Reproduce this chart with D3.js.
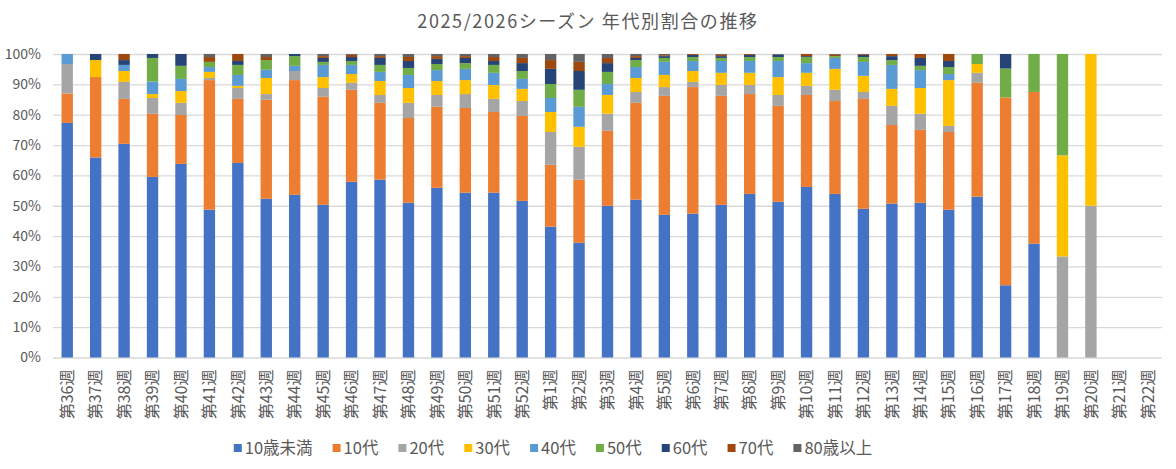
<!DOCTYPE html>
<html>
<head>
<meta charset="utf-8">
<script src="https://cdn.jsdelivr.net/npm/d3@7"></script>
<style>
  body { margin: 0; background: #fff; }
  svg { display: block; font-family: "Noto Sans CJK JP", "Noto Sans", sans-serif; }
</style>
</head>
<body>
<script>
// weeks of the 2025/2026 season
var categories = ["第36週", "第37週", "第38週", "第39週", "第40週", "第41週", "第42週", "第43週", "第44週",
  "第45週", "第46週", "第47週", "第48週", "第49週", "第50週", "第51週", "第52週", "第1週", "第2週", "第3週",
  "第4週", "第5週", "第6週", "第7週", "第8週", "第9週", "第10週", "第11週", "第12週", "第13週", "第14週",
  "第15週", "第16週", "第17週", "第18週", "第19週", "第20週", "第21週", "第22週"];

var seriesNames = ["10歳未満", "10代", "20代", "30代", "40代", "50代", "60代", "70代", "80歳以上"];

// share per age group (%)
var under10 = [77.3, 65.9, 70.4, 59.5, 63.8, 48.7, 64.1, 52.3, 53.6, 50.3, 57.9, 58.6, 51.0, 55.9, 54.3, 54.3, 51.6, 43.1, 37.8, 50.0, 52.0, 47.0, 47.4, 50.3, 53.9, 51.3, 56.2, 53.9, 49.0, 50.7, 51.0, 48.7, 53.0, 23.8, 37.5, 0, 0, 0, 0];
var teens = [9.7, 26.5, 14.8, 20.8, 16.1, 42.7, 21.1, 32.6, 37.8, 35.6, 30.3, 25.3, 27.9, 26.7, 27.9, 26.6, 28.0, 20.4, 20.8, 24.7, 31.9, 39.2, 41.7, 35.9, 32.9, 31.6, 30.3, 30.6, 36.2, 25.9, 24.0, 25.6, 37.5, 61.9, 50.0, 0, 0, 0, 0];
var twenties = [9.7, 0, 5.6, 5.2, 4.0, 0.7, 3.6, 1.9, 3.0, 2.9, 2.3, 2.6, 5.0, 3.9, 4.6, 4.3, 4.9, 10.8, 10.8, 5.6, 3.6, 2.9, 1.7, 3.6, 3.0, 3.6, 3.0, 3.7, 2.3, 6.3, 5.3, 2.0, 3.3, 0, 0, 33.3, 50, 0, 0];
var thirties = [0, 5.6, 3.6, 1.3, 3.9, 2.0, 0.7, 5.3, 0, 3.6, 2.9, 4.6, 4.9, 4.6, 4.6, 4.6, 4.0, 6.6, 6.6, 6.2, 4.6, 4.0, 3.6, 4.0, 4.0, 5.9, 4.3, 6.9, 5.3, 5.6, 8.5, 15.1, 2.9, 0, 0, 33.3, 50, 0, 0];
var forties = [3.3, 0, 2.0, 4.1, 4.0, 1.6, 3.6, 2.7, 1.7, 4.0, 3.0, 3.0, 4.3, 3.6, 3.7, 4.0, 3.3, 4.6, 6.6, 3.6, 3.6, 4.3, 3.3, 3.9, 3.9, 5.3, 3.2, 3.6, 4.6, 7.9, 5.9, 2.0, 0, 0, 0, 0, 0, 0, 0];
var fifties = [0, 0, 0, 7.8, 4.3, 1.7, 3.3, 3.2, 3.2, 1.0, 1.3, 2.3, 2.3, 2.0, 1.9, 2.6, 2.6, 4.6, 5.6, 4.0, 2.3, 1.3, 1.3, 1.0, 1.3, 1.3, 2.0, 0.6, 1.6, 1.6, 1.4, 2.3, 3.3, 9.5, 12.5, 33.4, 0, 0, 0];
var sixties = [0, 2.0, 1.6, 1.3, 3.9, 0, 1.3, 0, 0.7, 1.3, 1.3, 2.3, 2.3, 1.7, 1.7, 1.3, 2.6, 5.0, 6.2, 2.9, 0.7, 0.6, 0.7, 0.6, 0.7, 0.7, 0.3, 0, 0.7, 1.3, 2.6, 2.0, 0, 4.8, 0, 0, 0, 0, 0];
var seventies = [0, 0, 2.0, 0, 0, 1.6, 2.3, 1.0, 0, 0.6, 0.7, 0.6, 1.3, 0.9, 0.6, 1.3, 1.7, 2.9, 3.0, 1.7, 0.6, 0.3, 0.3, 0.4, 0.3, 0, 0.7, 0.4, 0.3, 0.7, 1.3, 2.3, 0, 0, 0, 0, 0, 0, 0];
var over80 = [0, 0, 0, 0, 0, 1.0, 0, 1.0, 0, 0.7, 0.3, 0.7, 1.0, 0.7, 0.7, 1.0, 1.3, 2.0, 2.6, 1.3, 0.7, 0.4, 0, 0.3, 0, 0.3, 0, 0.3, 0, 0, 0, 0, 0, 0, 0, 0, 0, 0, 0];

var yTicks = [0, 0.1, 0.2, 0.3, 0.4, 0.5, 0.6, 0.7, 0.8, 0.9, 1];

var colors = ["#4472C4", "#ED7D31", "#A5A5A5", "#FFC000", "#5B9BD5", "#70AD47", "#264478", "#9E480E", "#636363"];

drawChart();

function drawChart() {
  var width = 1176, height = 469;
  var margin = {top: 54, right: 14, bottom: 111.5, left: 53};
  var textColor = "#595959";

  var allSeries = [under10, teens, twenties, thirties, forties, fifties, sixties, seventies, over80];
  var rows = categories.map(function(c, i) {
    var r = {cat: c};
    seriesNames.forEach(function(s, k) { r[s] = allSeries[k][i]; });
    return r;
  });

  var stack = d3.stack()
    .keys(seriesNames)
    .offset(d3.stackOffsetExpand);
  var layers = stack(rows);

  var x = d3.scaleBand()
    .domain(categories)
    .range([margin.left, width - margin.right])
    .paddingInner(0.6)
    .paddingOuter(0.3);

  var y = d3.scaleLinear()
    .domain([0, 1])
    .range([height - margin.bottom, margin.top]);

  var color = d3.scaleOrdinal().domain(seriesNames).range(colors);

  var svg = d3.select("body").append("svg")
    .attr("width", width)
    .attr("height", height);

  // title
  svg.append("text")
    .attr("x", 588)
    .attr("y", 22)
    .attr("dy", "0.35em")
    .attr("text-anchor", "middle")
    .style("font-size", "18px")
    .style("letter-spacing", "1.6px")
    .style("fill", textColor)
    .text("2025/2026シーズン 年代別割合の推移");

  // gridlines + y labels
  var yAxis = svg.append("g")
    .attr("transform", "translate(" + margin.left + ",0)")
    .call(d3.axisLeft(y).tickValues(yTicks).tickFormat(d3.format(".0%"))
      .tickSize(-(width - margin.left - margin.right)).tickPadding(12));
  yAxis.select(".domain").remove();
  yAxis.selectAll(".tick line").attr("stroke", "#d9d9d9").attr("stroke-width", 1.3);
  yAxis.selectAll(".tick text")
    .style("font-size", "14px")
    .style("font-family", "\"Noto Sans CJK JP\", sans-serif")
    .style("fill", textColor);

  // bars
  var layer = svg.selectAll(".layer")
    .data(layers)
    .enter().append("g")
    .attr("class", "layer")
    .attr("fill", function(d) { return color(d.key); });

  layer.selectAll("rect")
    .data(function(d) { return d; })
    .enter().append("rect")
    .attr("x", function(d) { return x(d.data.cat); })
    .attr("width", x.bandwidth())
    .attr("y", function(d) { return y(d[1]); })
    .attr("height", function(d) { return Math.max(0, y(d[0]) - y(d[1])); });

  // x labels, rotated
  var xAxis = svg.append("g")
    .attr("transform", "translate(0," + (height - margin.bottom) + ")")
    .call(d3.axisBottom(x).tickSize(0).tickPadding(0));
  xAxis.select(".domain").remove();
  xAxis.selectAll(".tick text")
    .attr("transform", "rotate(-90)")
    .attr("x", -12)
    .attr("y", 0)
    .attr("dy", "0.36em")
    .attr("text-anchor", "end")
    .style("font-size", "16px")
    .style("font-family", "\"Noto Sans CJK JP\", sans-serif")
    .style("fill", textColor);

  // legend
  var legend = svg.append("g");
  var items = legend.selectAll(".item")
    .data(seriesNames)
    .enter().append("g")
    .attr("class", "item");
  items.append("rect")
    .attr("width", 8)
    .attr("height", 8)
    .attr("y", -4)
    .attr("fill", function(d) { return color(d); });
  items.append("text")
    .attr("x", 11)
    .attr("dy", "0.35em")
    .style("font-size", "16.5px")
    .style("fill", textColor)
    .text(function(d) { return d; });

  var gap = 20;
  var pos = 0;
  items.each(function() {
    var g = d3.select(this);
    g.attr("transform", "translate(" + pos + ",0)");
    pos += 11 + g.select("text").node().getComputedTextLength() + gap;
  });
  var total = pos - gap;
  legend.attr("transform", "translate(" + (553 - total / 2) + ",448)");
}
</script>
</body>
</html>
